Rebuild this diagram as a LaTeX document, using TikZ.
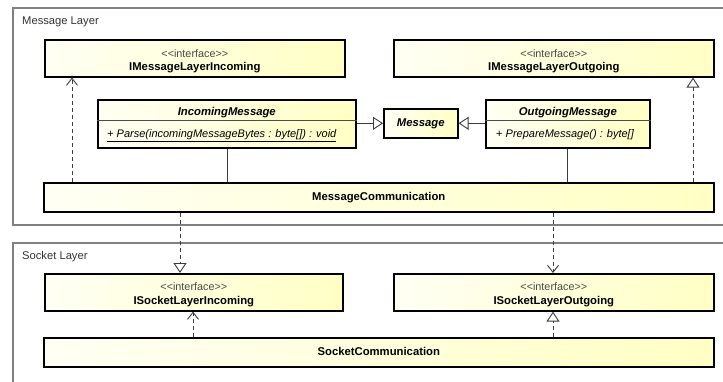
\documentclass[tikz,border=0pt]{standalone}
\usepackage{fontspec}
\setmainfont{Liberation Sans}
\usetikzlibrary{arrows.meta,shadows,calc}

\definecolor{boxL}{RGB}{255,255,244}
\definecolor{boxR}{RGB}{255,255,196}
\definecolor{frameC}{RGB}{128,128,128}
\definecolor{lineC}{RGB}{60,60,60}
\definecolor{stereoC}{RGB}{70,70,70}

\tikzset{
  umlbox/.style={draw=black, line width=1.6pt, left color=boxL, right color=boxR,
    inner sep=0pt, anchor=north west,
    drop shadow={shadow xshift=1.2pt, shadow yshift=-1.2pt, opacity=0.35, fill=gray}},
  framebox/.style={draw=frameC, line width=1.2pt},
  framelabel/.style={font=\fontsize{11.2}{13}\selectfont, text=black!80, anchor=base west, inner sep=0pt},
  stereo/.style={font=\fontsize{10.8}{13}\selectfont, text=stereoC, anchor=base, inner sep=0pt},
  cname/.style={font=\bfseries\fontsize{11.3}{13}\selectfont, anchor=base, inner sep=0pt},
  aname/.style={font=\bfseries\itshape\fontsize{11.3}{13}\selectfont, anchor=base, inner sep=0pt},
  member/.style={font=\itshape\fontsize{11}{13}\selectfont, anchor=base west, inner sep=0pt},
  assoc/.style={draw=lineC, line width=0.9pt},
  generalize/.style={draw=lineC, line width=0.9pt,
    -{Triangle[open, length=10pt, width=13pt, line width=0.9pt]}},
  realize/.style={draw=lineC, line width=0.9pt, dash pattern=on 4pt off 3pt,
    -{Triangle[open, length=10pt, width=13pt, line width=0.9pt]}},
  depend/.style={draw=lineC, line width=0.9pt, dash pattern=on 4pt off 3pt,
    -{Straight Barb[length=7pt, width=11pt, line width=0.9pt]}},
}

\newcommand{\stereotxt}{<\kern0pt<interface>\kern0pt>}

\begin{document}
\begin{tikzpicture}[x=1pt, y=-1pt]
  \path[use as bounding box, clip] (0,0) rectangle (723,381);

  % package frames (they run past the right edge)
  \draw[framebox] (13,8) rectangle (760,225);
  \node[framelabel] (mlabel) at (22,24) {Message Layer};
  \draw[framebox] (13,243) rectangle (760,420);
  \node[framelabel] (slabel) at (22,259) {Socket Layer};

  % ---- Message layer ----
  \node[umlbox, minimum width=300pt, minimum height=37pt] (iml) at (44,39) {};
  \node[stereo] (imlS) at ($(iml.north)+(0,18)$) {\stereotxt};
  \node[cname]  (imlN) at ($(iml.north)+(0,31.5)$) {IMessageLayerIncoming};

  \node[umlbox, minimum width=320pt, minimum height=37pt] (imo) at (393,39) {};
  \node[stereo] (imoS) at ($(imo.north)+(0,18)$) {\stereotxt};
  \node[cname]  (imoN) at ($(imo.north)+(0,31.5)$) {IMessageLayerOutgoing};

  \node[umlbox, minimum width=258pt, minimum height=48pt] (im) at (97,99) {};
  \draw[line width=0.8pt, black!70] ($(im.north west)+(0,21)$) -- ($(im.north east)+(0,21)$);
  \node[aname] (imN) at ($(im.north)+(0,16)$) {IncomingMessage};
  \node[member] (imM) at ($(im.north west)+(10,38.5)$) {\underline{+ Parse(incomingMessageBytes : byte[]) : void}};

  \node[umlbox, minimum width=74pt, minimum height=29pt] (msg) at (383,108) {};
  \node[aname] (msgN) at ($(msg.north)+(0,18.5)$) {Message};

  \node[umlbox, minimum width=164pt, minimum height=48pt] (om) at (485,99) {};
  \draw[line width=0.8pt, black!70] ($(om.north west)+(0,21)$) -- ($(om.north east)+(0,21)$);
  \node[aname] (omN) at ($(om.north)+(0,16)$) {OutgoingMessage};
  \node[member] (omM) at ($(om.north west)+(11,38.5)$) {\upshape+ \itshape PrepareMessage() : byte[]};

  \node[umlbox, minimum width=670pt, minimum height=29pt] (mc) at (43,182) {};
  \node[cname] (mcN) at ($(mc.north)+(0,18.5)$) {MessageCommunication};

  % ---- Socket layer ----
  \node[umlbox, minimum width=298pt, minimum height=37pt] (isi) at (44,273) {};
  \node[stereo] (isiS) at ($(isi.north)+(0,17)$) {\stereotxt};
  \node[cname]  (isiN) at ($(isi.north)+(0,31)$) {ISocketLayerIncoming};

  \node[umlbox, minimum width=320pt, minimum height=37pt] (iso) at (393,273) {};
  \node[stereo] (isoS) at ($(iso.north)+(0,17)$) {\stereotxt};
  \node[cname]  (isoN) at ($(iso.north)+(0,31)$) {ISocketLayerOutgoing};

  \node[umlbox, minimum width=670pt, minimum height=29pt] (sc) at (43,337) {};
  \node[cname] (scN) at ($(sc.north)+(0,18.5)$) {SocketCommunication};

  % ---- relations ----
  \draw[generalize] (im.east |- msg.west) -- (msg.west);
  \draw[generalize] (om.west |- msg.east) -- (msg.east);
  \draw[assoc] (im.south -| 227,0) -- (mc.north -| 227,0);
  \draw[assoc] (om.south -| 567,0) -- (mc.north -| 567,0);
  \draw[depend]  (mc.north -| 72,0)  -- (iml.south -| 72,0);
  \draw[realize] (mc.north -| 693,0) -- (imo.south -| 693,0);
  \draw[realize] (mc.south -| 180,0) -- (isi.north -| 180,0);
  \draw[depend]  (mc.south -| 553,0) -- (iso.north -| 553,0);
  \draw[depend]  (sc.north -| 193,0) -- (isi.south -| 193,0);
  \draw[realize] (sc.north -| 553,0) -- (iso.south -| 553,0);
\end{tikzpicture}
\end{document}
